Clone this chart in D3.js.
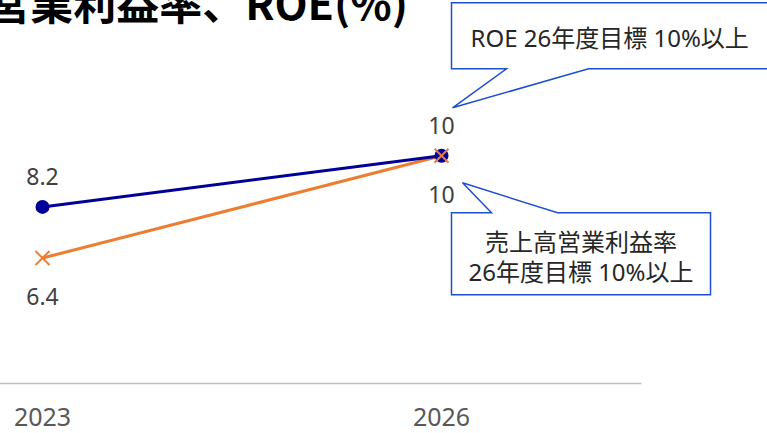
<!DOCTYPE html>
<html>
<head>
<meta charset="utf-8">
<script src="https://cdn.jsdelivr.net/npm/d3@7"></script>
<style>
  body { margin: 0; background: #fff; }
  svg { display: block; font-family: 'Noto Sans', 'Noto Sans CJK JP', sans-serif; }
</style>
</head>
<body>
<svg width="767" height="433"></svg>
<script>
// chart data
var years = ['2023', '2026']
var roe = [8.2, 10]
var opMargin = [6.4, 10]
var title = '売上高営業利益率、ROE(%)'
var roeNote = ['ROE 26年度目標 10%以上']
var marginNote = ['売上高営業利益率', '26年度目標 10%以上']

var svg = d3.select('svg')
var width = +svg.attr('width')
var height = +svg.attr('height')

// the plot is cropped on the left, so the first band starts off screen
var x = d3.scaleBand()
    .domain(years)
    .range([-157, 641])

var y = d3.scaleLinear()
    .domain([2, 12])
    .range([383, 99])

function cx (d, i) { return x(years[i]) + x.bandwidth() / 2 }

// title, partly cut off by the frame
svg.append('text')
    .attr('x', 408)
    .attr('y', 20)
    .attr('text-anchor', 'end')
    .style('font-family', "'Noto Sans CJK JP', sans-serif")
    .style('font-weight', 700)
    .style('font-size', '43px')
    .style('fill', '#000')
    .text(title)

// x axis
var xAxis = svg.append('g')
    .attr('transform', 'translate(0,' + y(2) + ')')
    .call(d3.axisBottom(x).tickSize(0).tickPadding(25))

xAxis.select('.domain')
    .attr('stroke', '#bfbfbf')
    .attr('stroke-width', 1.5)

xAxis.selectAll('text')
    .style('font-family', "'Noto Sans', sans-serif")
    .style('font-size', '25px')
    .style('fill', '#595959')

var line = d3.line()
    .x(cx)
    .y(function (d) { return y(d) })

// operating margin line (orange)
svg.append('path')
    .datum(opMargin)
    .attr('d', line)
    .attr('fill', 'none')
    .attr('stroke', '#ed7d31')
    .attr('stroke-width', 3)

// ROE line (navy)
svg.append('path')
    .datum(roe)
    .attr('d', line)
    .attr('fill', 'none')
    .attr('stroke', '#000099')
    .attr('stroke-width', 3)

svg.append('g').selectAll('circle')
    .data(roe)
  .enter().append('circle')
    .attr('cx', cx)
    .attr('cy', function (d) { return y(d) })
    .attr('r', 7)
    .attr('fill', '#000099')

svg.append('g').selectAll('path')
    .data(opMargin)
  .enter().append('path')
    .attr('d', d3.symbol().type(d3.symbolTimes).size(130))
    .attr('transform', function (d, i) { return 'translate(' + cx(d, i) + ',' + y(d) + ')' })
    .attr('fill', 'none')
    .attr('stroke', '#ed7d31')
    .attr('stroke-width', 2)

// data labels: ROE above, margin below
var labelStyle = function (sel) {
  sel.attr('text-anchor', 'middle')
    .attr('dominant-baseline', 'central')
    .style('font-size', '23px')
    .style('fill', '#404040')
}

svg.append('g').selectAll('text')
    .data(roe)
  .enter().append('text')
    .attr('x', cx)
    .attr('y', function (d) { return y(d) - 31 })
    .call(labelStyle)
    .text(function (d) { return d3.format('')(d) })

svg.append('g').selectAll('text')
    .data(opMargin)
  .enter().append('text')
    .attr('x', cx)
    .attr('y', function (d) { return y(d) + 38 })
    .call(labelStyle)
    .text(function (d) { return d3.format('')(d) })

// callouts anchored on the 2026 point
var px = cx(roe[1], 1)
var py = y(roe[1])

function callout (l, t, r, b, tip, b1, b2, onTop) {
  var p = d3.path()
  p.moveTo(l, t)
  if (onTop) {
    p.lineTo(b1, t)
    p.lineTo(tip[0], tip[1])
    p.lineTo(b2, t)
  }
  p.lineTo(r, t)
  p.lineTo(r, b)
  if (!onTop) {
    p.lineTo(b2, b)
    p.lineTo(tip[0], tip[1])
    p.lineTo(b1, b)
  }
  p.lineTo(l, b)
  p.closePath()
  return p.toString()
}

var calloutColor = '#1f4fd0'

// ROE target box (top right, clipped)
var t1 = { l: px + 10, t: py - 153, r: px + 340, b: py - 87 }
svg.append('path')
    .attr('d', callout(t1.l, t1.t, t1.r, t1.b, [px + 11, py - 48], px + 65, px + 147, false))
    .attr('fill', '#fff')
    .attr('stroke', calloutColor)
    .attr('stroke-width', 1.5)

svg.append('text')
    .attr('x', t1.l + 19)
    .attr('y', (t1.t + t1.b) / 2 + 2)
    .attr('dominant-baseline', 'central')
    .style('font-family', "'Noto Sans', 'Noto Sans CJK JP', sans-serif")
    .style('font-size', '24px')
    .style('fill', '#262626')
    .text(roeNote[0])

// operating margin target box (below)
var t2 = { l: px + 10, t: py + 57, r: px + 269, b: py + 139 }
svg.append('path')
    .attr('d', callout(t2.l, t2.t, t2.r, t2.b, [px + 21, py + 27], px + 50, px + 116, true))
    .attr('fill', '#fff')
    .attr('stroke', calloutColor)
    .attr('stroke-width', 1.5)

svg.append('g').selectAll('text')
    .data(marginNote)
  .enter().append('text')
    .attr('x', (t2.l + t2.r) / 2)
    .attr('y', function (d, i) { return py + 86 + i * 30 })
    .attr('text-anchor', 'middle')
    .attr('dominant-baseline', 'central')
    .style('font-family', "'Noto Sans', 'Noto Sans CJK JP', sans-serif")
    .style('font-size', '24px')
    .style('fill', '#262626')
    .text(function (d) { return d })
</script>
</body>
</html>
